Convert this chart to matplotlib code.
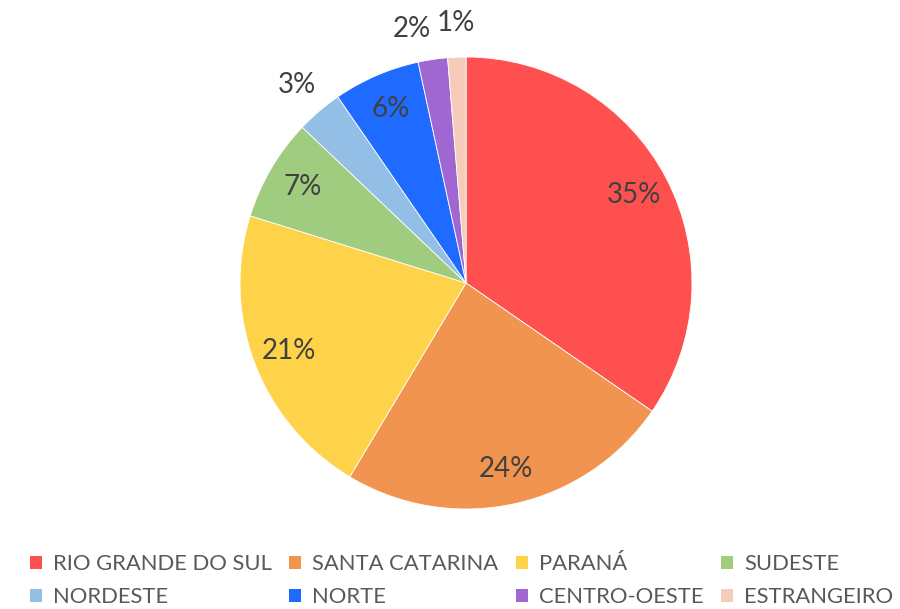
import matplotlib
matplotlib.use("Agg")
import matplotlib.pyplot as plt
import numpy as np
from matplotlib.patches import Patch

plt.rcParams["font.family"] = ["Lato", "DejaVu Sans"]

categories = ["RIO GRANDE DO SUL", "SANTA CATARINA", "PARANÁ", "SUDESTE",
              "NORDESTE", "NORTE", "CENTRO-OESTE", "ESTRANGEIRO"]
shares = [34.6, 24.0, 21.2, 7.3, 3.3, 6.2, 2.1, 1.3]
pct_labels = ["35%", "24%", "21%", "7%", "3%", "6%", "2%", "1%"]
colors = ["#FF5050", "#F09450", "#FED34A", "#9FCC7E",
          "#93BEE5", "#1F6BFF", "#A066D2", "#F6CBB9"]
outside = [False, False, False, False, True, False, True, True]
angle_nudge = [0, 0, 0, 0, 0, 0, 3.5, 0]  # degrees, to keep small labels apart

TEXT = "#404040"

fig = plt.figure(figsize=(9, 6.09), dpi=100)
ax = fig.add_axes([0.2667, 0.1642, 0.5022, 0.7422])
wedges, _ = ax.pie(shares, colors=colors, startangle=90, counterclock=False,
                   radius=1.0, wedgeprops=dict(edgecolor="white", linewidth=0.6))
ax.set_xlim(-1, 1)
ax.set_ylim(-1, 1)
ax.set_aspect("equal")
ax.axis("off")

for w, lab, out, nudge in zip(wedges, pct_labels, outside, angle_nudge):
    mid = np.deg2rad((w.theta1 + w.theta2) / 2 + nudge)
    r = 1.15 if out else 0.84
    ax.text(r * np.cos(mid), r * np.sin(mid), lab, ha="center", va="center",
            fontsize=20, color=TEXT, clip_on=False)

# matplotlib fills legend columns first; reorder so rows read like the reference
ncol = 4
order = [r * ncol + c for c in range(ncol) for r in range(2)]
handles = [Patch(facecolor=colors[i], edgecolor="none") for i in order]
labels = [categories[i] for i in order]
fig.legend(handles, labels, ncol=ncol, loc="lower left",
           bbox_to_anchor=(10 / 900, -18 / 609), frameon=False,
           fontsize=15.8, labelcolor="#595959", handlelength=0.55,
           handleheight=0.55, handletextpad=0.5, columnspacing=0.8,
           labelspacing=0.6)

fig.savefig("out.png", dpi=100)
